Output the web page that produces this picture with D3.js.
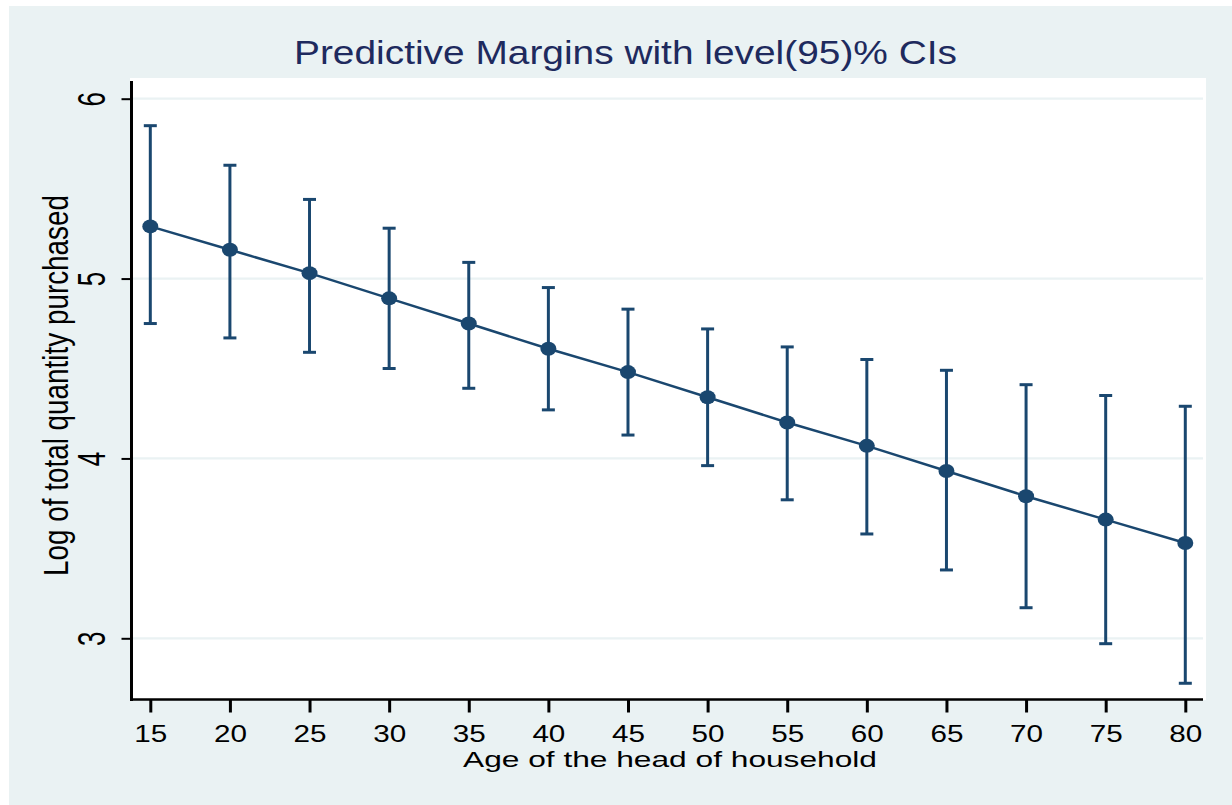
<!DOCTYPE html>
<html>
<head>
<meta charset="utf-8">
<script src="https://cdn.jsdelivr.net/npm/d3@7"></script>
<style>
  body { margin: 0; background: #fff; }
  text { font-family: "Liberation Sans", Arial, sans-serif; }
</style>
</head>
<body>
<svg id="chart" width="1232" height="805"></svg>
<script>
// values
const ages = [15, 20, 25, 30, 35, 40, 45, 50, 55, 60, 65, 70, 75, 80];
const margin = [5.29, 5.16, 5.03, 4.89, 4.75, 4.61, 4.48, 4.34, 4.20, 4.07, 3.93, 3.79, 3.66, 3.53];
const ciLow = [4.75, 4.67, 4.59, 4.50, 4.39, 4.27, 4.13, 3.96, 3.77, 3.58, 3.38, 3.17, 2.97, 2.75];
const ciHigh = [5.85, 5.63, 5.44, 5.28, 5.09, 4.95, 4.83, 4.72, 4.62, 4.55, 4.49, 4.41, 4.35, 4.29];
const yTicks = [3, 4, 5, 6];
const titleText = "Predictive Margins with level(95)% CIs";
const xTitle = "Age of the head of household";
const yTitle = "Log of total quantity purchased";

const navy = "#1a476f";
const bgColor = "#eaf2f3";

const svg = d3.select("#chart");

// graph region and plot region
svg.append("rect").attr("x", 9).attr("y", 6).attr("width", 1223).attr("height", 799).attr("fill", bgColor);
svg.append("rect").attr("x", 130).attr("y", 78).attr("width", 1076).attr("height", 622).attr("fill", "#fff");

const x = d3.scaleLinear().domain([15, 80]).range([150.3, 1185.3]);
const y = d3.scaleLinear().domain([3, 6]).range([638.3, 98.7]);

// gridlines
svg.append("g")
  .selectAll("line")
  .data(yTicks)
  .join("line")
  .attr("x1", 133)
  .attr("x2", 1203)
  .attr("y1", d => y(d))
  .attr("y2", d => y(d))
  .attr("stroke", bgColor)
  .attr("stroke-width", 2.3);

// x axis
const xAxis = svg.append("g")
  .attr("transform", "translate(0,699.5)")
  .call(d3.axisBottom(x).tickValues(ages).tickSize(13));
xAxis.select(".domain").remove();
xAxis.selectAll(".tick line").attr("stroke", "#000").attr("stroke-width", 3);
xAxis.selectAll(".tick text")
  .attr("y", 42)
  .attr("dy", null)
  .attr("fill", "#000")
  .style("font-size", "24px")
  .attr("textLength", 33)
  .attr("lengthAdjust", "spacingAndGlyphs");

svg.append("line")
  .attr("x1", 130).attr("x2", 1203)
  .attr("y1", 699.5).attr("y2", 699.5)
  .attr("stroke", "#000").attr("stroke-width", 2.5);

// y axis
const yAxis = svg.append("g")
  .attr("transform", "translate(131.5,0)")
  .call(d3.axisLeft(y).tickValues(yTicks).tickFormat(d3.format("d")).tickSize(10));
yAxis.select(".domain").remove();
yAxis.selectAll(".tick line").attr("stroke", "#000").attr("stroke-width", 2);
yAxis.selectAll(".tick text")
  .attr("x", null)
  .attr("dy", null)
  .attr("text-anchor", "middle")
  .attr("transform", "translate(-26.5,0) scale(1.5,1) rotate(-90)")
  .attr("fill", "#000")
  .style("font-size", "26px");

svg.append("line")
  .attr("x1", 131.5).attr("x2", 131.5)
  .attr("y1", 81).attr("y2", 701)
  .attr("stroke", "#000").attr("stroke-width", 3);

// confidence intervals
const rows = ages.map((a, i) => ({ age: a, m: margin[i], lo: ciLow[i], hi: ciHigh[i] }));
const bars = svg.append("g").attr("stroke", navy).attr("stroke-width", 3);
bars.selectAll(".stem")
  .data(rows)
  .join("line")
  .attr("class", "stem")
  .attr("x1", d => x(d.age)).attr("x2", d => x(d.age))
  .attr("y1", d => y(d.lo)).attr("y2", d => y(d.hi));
bars.selectAll(".capLo")
  .data(rows)
  .join("line")
  .attr("class", "capLo")
  .attr("x1", d => x(d.age) - 6.5).attr("x2", d => x(d.age) + 6.5)
  .attr("y1", d => y(d.lo)).attr("y2", d => y(d.lo));
bars.selectAll(".capHi")
  .data(rows)
  .join("line")
  .attr("class", "capHi")
  .attr("x1", d => x(d.age) - 6.5).attr("x2", d => x(d.age) + 6.5)
  .attr("y1", d => y(d.hi)).attr("y2", d => y(d.hi));

// connected margins
const line = d3.line().x(d => x(d.age)).y(d => y(d.m));
svg.append("path")
  .attr("d", line(rows))
  .attr("fill", "none")
  .attr("stroke", navy)
  .attr("stroke-width", 2.5);

svg.append("g")
  .selectAll("ellipse")
  .data(rows)
  .join("ellipse")
  .attr("cx", d => x(d.age))
  .attr("cy", d => y(d.m))
  .attr("rx", 8)
  .attr("ry", 7)
  .attr("fill", navy);

// titles
svg.append("text")
  .attr("x", 625.5).attr("y", 63.5)
  .attr("text-anchor", "middle")
  .attr("fill", "#1e2a5e")
  .style("font-size", "34px")
  .attr("textLength", 663)
  .attr("lengthAdjust", "spacingAndGlyphs")
  .text(titleText);

svg.append("text")
  .attr("x", 670).attr("y", 767)
  .attr("text-anchor", "middle")
  .attr("fill", "#000")
  .style("font-size", "22px")
  .attr("textLength", 414)
  .attr("lengthAdjust", "spacingAndGlyphs")
  .text(xTitle);

svg.append("text")
  .attr("transform", "translate(68,385.5) scale(1.45,1) rotate(-90)")
  .attr("text-anchor", "middle")
  .attr("fill", "#000")
  .style("font-size", "24px")
  .attr("textLength", 381)
  .attr("lengthAdjust", "spacingAndGlyphs")
  .text(yTitle);
</script>
</body>
</html>
